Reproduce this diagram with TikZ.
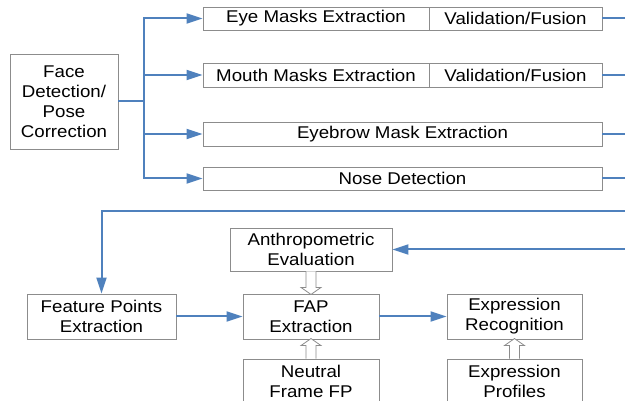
\documentclass[tikz,border=0pt]{standalone}
\usepackage{fontspec}
\setmainfont[FakeStretch=1.1]{Liberation Sans}
\usetikzlibrary{arrows.meta}
\definecolor{flowblue}{RGB}{79,129,189}
\definecolor{boxgray}{RGB}{140,140,140}

\begin{document}
\begin{tikzpicture}[x=1pt,y=1pt,yscale=-1,xscale=1,
  box/.style={draw=boxgray, line width=0.9pt, inner sep=0pt, align=center, font=\fontsize{17}{20}\selectfont},
  flow/.style={draw=flowblue, line width=2pt},
  flowarrow/.style={flow, -{Triangle[length=16pt,width=10pt]}},
  hollowline/.style={draw=boxgray, line width=0.8pt, fill=white},
  hollowarrow/.pic={\draw[hollowline] (-5,0) -- (-5,#1-7) -- (-10,#1-7) -- (0,#1) -- (10,#1-7) -- (5,#1-7) -- (5,0);}
]
\useasboundingbox (0,0) rectangle (625,401);

%Face detection
\node[box, minimum width=108pt, minimum height=95pt] (face) at (64,101.5) {Face\\Detection/\\Pose\\Correction};

%Mask extraction rows
\node[box, minimum width=226pt, minimum height=23pt] (eyeext) at (316,18.5) {Eye Masks Extraction};
\node[box, minimum width=173pt, minimum height=23pt] (eyeval) at (515.5,18.5) {Validation/Fusion};
\node[box, minimum width=226pt, minimum height=24pt] (mouthext) at (316,75) {Mouth Masks Extraction};
\node[box, minimum width=173pt, minimum height=24pt] (mouthval) at (515.5,75) {Validation/Fusion};
\node[box, minimum width=399pt, minimum height=24pt] (brow) at (402.5,134) {Eyebrow Mask Extraction};
\node[box, minimum width=399pt, minimum height=23pt] (nose) at (402.5,178.5) {Nose Detection};

%Lower part
\node[box, minimum width=149pt, minimum height=45pt] (feat) at (101.5,316.5) {Feature Points\\Extraction};
\node[box, minimum width=136pt, minimum height=45pt] (fap) at (311,316.5) {FAP\\Extraction};
\node[box, minimum width=162pt, minimum height=43pt] (anth) at (311,249.5) {Anthropometric\\Evaluation};
\node[box, minimum width=136pt, minimum height=45pt] (neutral) at (311,381.5) {Neutral\\Frame FP};
\node[box, minimum width=135pt, minimum height=45pt] (exprec) at (514.5,316.5) {Expression\\Recognition};
\node[box, minimum width=135pt, minimum height=45pt] (expprof) at (514.5,381.5) {Expression\\Profiles};

%Free ends
\coordinate (split) at (144,101.5);
\coordinate (eyeout) at (625,18.5);
\coordinate (mouthout) at (625,75);
\coordinate (browout) at (625,134);
\coordinate (noseout) at (625,178.5);
\coordinate (fbin) at (625,211);
\coordinate (anthin) at (625,249.5);

%Connectors
\draw[flow] (face.east) -- (split);
\draw[flowarrow] (split) |- (eyeext.west);
\draw[flowarrow] (split) |- (mouthext.west);
\draw[flowarrow] (split) |- (brow.west);
\draw[flowarrow] (split) |- (nose.west);
\draw[flow] (eyeval.east) -- (eyeout);
\draw[flow] (mouthval.east) -- (mouthout);
\draw[flow] (brow.east) -- (browout);
\draw[flow] (nose.east) -- (noseout);
\draw[flowarrow] (fbin) -| (feat.north);
\draw[flowarrow] (anthin) -- (anth.east);
\draw[flowarrow] (feat.east) -- (fap.west);
\draw[flowarrow] (fap.east) -- (exprec.west);

%Hollow arrows
\pic[yscale=-1] at (anth.south) {hollowarrow=23};
\pic at (neutral.north) {hollowarrow=20};
\pic at (expprof.north) {hollowarrow=20};

\end{tikzpicture}
\end{document}
